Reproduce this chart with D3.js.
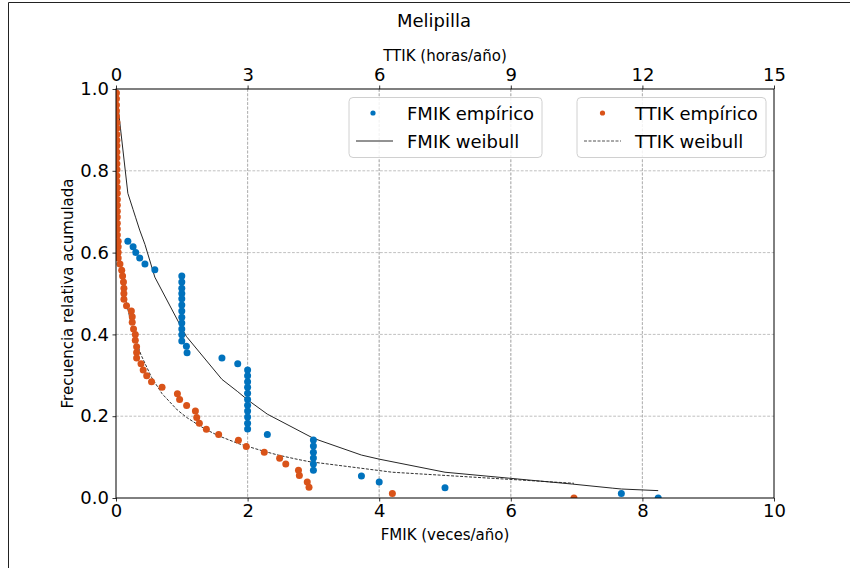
<!DOCTYPE html>
<html><head><meta charset="utf-8">
<script src="https://cdn.jsdelivr.net/npm/d3@7"></script>
<style>body{margin:0;background:#fff}svg{display:block;font-family:"DejaVu Sans",sans-serif}</style>
</head><body>
<svg id="chart" width="850" height="568"></svg>
<script>
// ---- data ----
const fmikX = [0.18,0.26,0.30,0.36,0.44,0.59,
  1,1,1,1,1,1,1,1,1,1,1,1,
  1.07,1.08,1.61,1.85,
  2,2,2,2,2,2,2,2,2,2,2,
  2.30,
  3,3,3,3,3,3,
  3.73,4.0,5.0,7.68,8.24];
const fmikY = [0.628,0.614,0.600,0.587,0.572,0.558,
  0.543,0.528,0.513,0.500,0.487,0.472,0.457,0.442,0.428,0.413,0.399,0.384,
  0.371,0.355,0.342,0.328,
  0.313,0.299,0.284,0.271,0.256,0.241,0.227,0.213,0.198,0.183,0.169,
  0.155,
  0.142,0.127,0.112,0.098,0.083,0.068,
  0.054,0.039,0.025,0.011,0.0];

const ttikX = [0.01,0.01,0.01,0.01,0.01,0.02,0.02,0.02,0.02,0.02,0.02,0.02,0.02,0.02,0.02,0.02,
  0.03,0.03,0.03,0.03,0.03,0.03,0.03,0.03,0.03,
  0.05,0.05,0.05,0.05,0.09,0.13,0.15,0.17,0.18,0.18,0.18,0.24,0.35,0.37,0.37,0.40,0.44,0.44,
  0.47,0.47,0.47,0.57,0.62,0.70,0.81,1.05,1.40,1.45,1.61,1.81,1.84,1.90,2.06,2.34,2.79,2.97,
  3.38,3.73,3.87,4.16,4.18,4.36,4.40,6.30,10.44];
const ttikY = [0.990,0.976,0.961,0.947,0.933,0.918,0.904,0.889,0.875,0.861,0.846,0.832,0.817,0.803,0.788,0.774,
  0.759,0.745,0.730,0.716,0.701,0.687,0.672,0.658,0.643,
  0.628,0.614,0.600,0.587,0.572,0.557,0.543,0.528,0.513,0.500,0.486,0.470,0.457,0.443,0.430,0.413,0.400,0.386,
  0.370,0.356,0.342,0.328,0.313,0.299,0.284,0.271,0.255,0.241,0.226,0.213,0.197,0.183,0.168,0.155,0.141,0.126,
  0.112,0.097,0.083,0.068,0.055,0.039,0.026,0.011,0.0];

const fmikWX = [0,0.18,0.26,0.30,0.36,0.44,0.59,1.0,1.07,1.08,1.61,1.85,2.0,2.30,3.0,3.73,4.0,5.0,6.94,7.55,7.68,8.24];
const fmikWY = [1.0,0.745,0.705,0.685,0.655,0.62,0.54,0.415,0.395,0.393,0.29,0.26,0.24,0.205,0.146,0.105,0.095,0.063,0.034,0.024,0.022,0.018];

const ttikWX = [0,0.001,0.005,0.01,0.02,0.03,0.05,0.09,0.13,0.17,0.24,0.35,0.44,0.57,0.81,1.05,1.40,1.61,1.90,2.06,2.34,2.79,3.38,3.73,4.16,4.40,6.30,10.44];
const ttikWY = [1.0,0.90,0.83,0.79,0.73,0.70,0.64,0.585,0.545,0.515,0.475,0.425,0.39,0.35,0.295,0.255,0.215,0.197,0.177,0.167,0.152,0.133,0.114,0.104,0.094,0.089,0.063,0.036];

const fmikTicks = [0,2,4,6,8,10];
const ttikTicks = [0,3,6,9,12,15];
const yTicks = [0,0.2,0.4,0.6,0.8,1.0];

// ---- layout ----
const svg = d3.select("#chart");
const L = 116, R = 774, T = 89, B = 498;
const x = d3.scaleLinear().domain([0,10]).range([L,R]);
const xt = d3.scaleLinear().domain([0,15]).range([L,R]);
const y = d3.scaleLinear().domain([0,1]).range([B,T]);
const blue = "#0072BD", orange = "#D95319";

// figure border
svg.append("path").attr("d","M8.5,568 L8.5,2.5 L850,2.5").attr("fill","none").attr("stroke","#222").attr("stroke-width",1);

// grid
const grid = svg.append("g").attr("stroke","#b0b0b0").attr("stroke-width",0.8).attr("stroke-dasharray","2.8,1.6");
fmikTicks.filter(d=>d>0&&d<10).forEach(d=>grid.append("line").attr("x1",x(d)).attr("x2",x(d)).attr("y1",T).attr("y2",B));
ttikTicks.filter(d=>d>0&&d<15).forEach(d=>grid.append("line").attr("x1",xt(d)).attr("x2",xt(d)).attr("y1",T).attr("y2",B));
yTicks.filter(d=>d>0&&d<1).forEach(d=>grid.append("line").attr("x1",L).attr("x2",R).attr("y1",y(d)).attr("y2",y(d)));

svg.append("defs").append("clipPath").attr("id","clip").append("rect").attr("x",L).attr("y",T).attr("width",R-L).attr("height",B-T);
const plot = svg.append("g").attr("clip-path","url(#clip)");

const line = d3.line();
plot.append("path").attr("d", line(fmikWX.map((d,i)=>[x(d), y(fmikWY[i])])))
  .attr("fill","none").attr("stroke","#262626").attr("stroke-width",1);
plot.append("path").attr("d", line(ttikWX.map((d,i)=>[xt(d), y(ttikWY[i])])))
  .attr("fill","none").attr("stroke","#1a1a1a").attr("stroke-width",0.9).attr("stroke-dasharray","3,1.5");

plot.selectAll("circle.f").data(fmikX).join("circle").attr("class","f")
  .attr("cx",d=>x(d)).attr("cy",(d,i)=>y(fmikY[i])).attr("r",3.5).attr("fill",blue);
plot.selectAll("circle.t").data(ttikX).join("circle").attr("class","t")
  .attr("cx",d=>xt(d)).attr("cy",(d,i)=>y(ttikY[i])).attr("r",3.5).attr("fill",orange);

// axes
function style(g){
  g.select(".domain").remove();
  g.selectAll(".tick line").attr("stroke","#000").attr("stroke-width",0.8);
  g.selectAll("text").attr("fill","#000").style("font-size","18px").style("font-family","DejaVu Sans");
}
svg.append("g").attr("transform",`translate(0,${B})`)
  .call(d3.axisBottom(x).tickValues(fmikTicks).tickFormat(d3.format("d")).tickSize(3.5).tickPadding(3)).call(style);
svg.append("g").attr("transform",`translate(0,${T})`)
  .call(d3.axisTop(xt).tickValues(ttikTicks).tickFormat(d3.format("d")).tickSize(3.5).tickPadding(4.5)).call(style);
svg.append("g").attr("transform",`translate(${L},0)`)
  .call(d3.axisLeft(y).tickValues(yTicks).tickFormat(d3.format(".1f")).tickSize(3.5).tickPadding(3.5)).call(style);
svg.append("rect").attr("x",L).attr("y",T).attr("width",R-L).attr("height",B-T)
  .attr("fill","none").attr("stroke","#000").attr("stroke-width",1);

// labels
svg.append("text").attr("x",434).attr("y",27).attr("text-anchor","middle").style("font-size","18px").attr("fill","#000").text("Melipilla");
svg.append("text").attr("x",445).attr("y",61).attr("text-anchor","middle").style("font-size","15px").attr("fill","#000").text("TTIK (horas/año)");
svg.append("text").attr("x",445).attr("y",540).attr("text-anchor","middle").style("font-size","15px").attr("fill","#000").text("FMIK (veces/año)");
svg.append("text").attr("transform",`translate(73,${(T+B)/2}) rotate(-90)`).attr("text-anchor","middle").style("font-size","15px").attr("fill","#000").text("Frecuencia relativa acumulada");

// legends
function legend(x0,w,color,l1,l2,dash,mx,lx1,lx2,tx){
  const g = svg.append("g");
  g.append("rect").attr("x",x0).attr("y",97.5).attr("width",w).attr("height",60).attr("rx",4)
    .attr("fill","#fff").attr("fill-opacity",0.85).attr("stroke","#d0d0d0").attr("stroke-width",1);
  g.append("circle").attr("cx",mx).attr("cy",113).attr("r",2.6).attr("fill",color);
  const ln = g.append("line").attr("x1",lx1).attr("x2",lx2).attr("y1",141).attr("y2",141).attr("stroke","#262626").attr("stroke-width",dash?0.8:1);
  if(dash) ln.attr("stroke-dasharray","3,1.5");
  g.append("text").attr("x",tx).attr("y",119.5).style("font-size","18px").attr("fill","#000").text(l1);
  g.append("text").attr("x",tx).attr("y",147.5).style("font-size","18px").attr("fill","#000").text(l2);
}
legend(349,193,blue,"FMIK empírico","FMIK weibull",false,373,356,393,407);
legend(577,189,orange,"TTIK empírico","TTIK weibull",true,602.5,584,621,635);
</script>
</body></html>
